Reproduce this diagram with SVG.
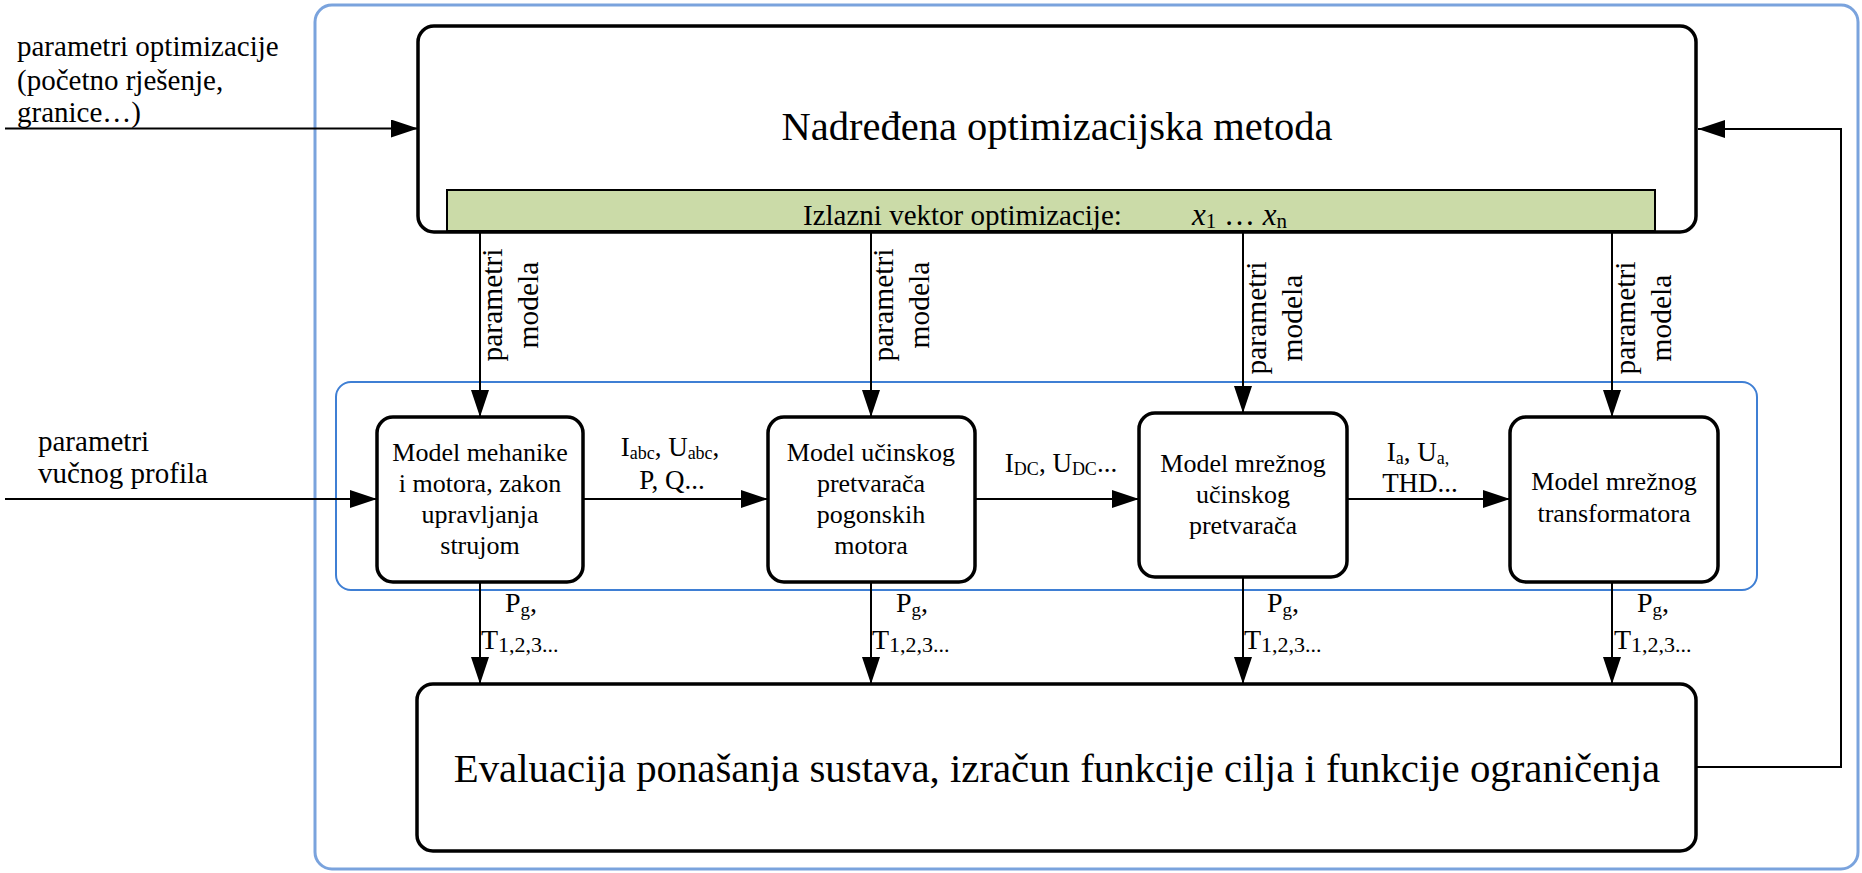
<svg xmlns="http://www.w3.org/2000/svg" width="1862" height="873" viewBox="0 0 1862 873">
<defs>
<style>
.t{font-family:"Liberation Serif","Times New Roman",serif;fill:#000}
.box{fill:#fff;stroke:#000;stroke-width:3.5}
.c{fill:none;stroke:#000;stroke-width:2}
.m{text-anchor:middle;font-size:26px}
.lbl{font-size:29.5px;text-anchor:middle}
</style>
<marker id="arr" viewBox="0 0 27 18" refX="27" refY="9" markerWidth="27" markerHeight="18" markerUnits="userSpaceOnUse" orient="auto">
<path d="M0,0 L27,9 L0,18 z" fill="#000"/>
</marker>
</defs>
<rect width="1862" height="873" fill="#fff"/>
<g id="frame-outer">
<rect x="315" y="5" width="1543" height="864" rx="17" fill="none" stroke="#7aa3dd" stroke-width="3"/>
</g>
<g id="frame-inner">
<rect x="336" y="382" width="1421" height="208" rx="15" fill="none" stroke="#3f7fd4" stroke-width="2"/>
</g>
<g id="connectors">
<path class="c" d="M5,128.5 H418" marker-end="url(#arr)"/>
<path class="c" d="M1696,767 H1841 V129 H1698" marker-end="url(#arr)"/>
<path class="c" d="M5,499 H377" marker-end="url(#arr)"/>
<path class="c" d="M583,499 H768" marker-end="url(#arr)"/>
<path class="c" d="M975,499 H1139" marker-end="url(#arr)"/>
<path class="c" d="M1347,499 H1510" marker-end="url(#arr)"/>
<path class="c" d="M480,231 V417" marker-end="url(#arr)"/>
<path class="c" d="M871,231 V417" marker-end="url(#arr)"/>
<path class="c" d="M1243,231 V413" marker-end="url(#arr)"/>
<path class="c" d="M1612,231 V417" marker-end="url(#arr)"/>
<path class="c" d="M480,582 V684" marker-end="url(#arr)"/>
<path class="c" d="M871,582 V684" marker-end="url(#arr)"/>
<path class="c" d="M1243,577 V684" marker-end="url(#arr)"/>
<path class="c" d="M1612,582 V684" marker-end="url(#arr)"/>
<g class="t" font-size="29">
<text x="17" y="56">parametri optimizacije</text>
<text x="17" y="90">(početno rješenje,</text>
<text x="17" y="122">granice…)</text>
<text x="38" y="451">parametri</text>
<text x="38" y="483">vučnog profila</text>
</g>
<g class="t lbl">
<text transform="translate(502,305) rotate(-90)">parametri</text>
<text transform="translate(538,305) rotate(-90)">modela</text>
<text transform="translate(893,305) rotate(-90)">parametri</text>
<text transform="translate(929,305) rotate(-90)">modela</text>
<text transform="translate(1266,318) rotate(-90)">parametri</text>
<text transform="translate(1302,318) rotate(-90)">modela</text>
<text transform="translate(1635,318) rotate(-90)">parametri</text>
<text transform="translate(1671,318) rotate(-90)">modela</text>
</g>
<g class="t" font-size="27" text-anchor="middle">
<text x="670" y="456">I<tspan font-size="18" dy="3">abc</tspan><tspan dy="-3">, U</tspan><tspan font-size="18" dy="3">abc</tspan><tspan dy="-3">,</tspan></text>
<text x="672" y="489">P, Q...</text>
<text x="1061" y="472">I<tspan font-size="18" dy="3">DC</tspan><tspan dy="-3">, U</tspan><tspan font-size="18" dy="3">DC</tspan><tspan dy="-3">...</tspan></text>
<text x="1418" y="461">I<tspan font-size="18" dy="3">a</tspan><tspan dy="-3">, U</tspan><tspan font-size="18" dy="3">a,</tspan></text>
<text x="1420" y="492">THD...</text>
</g>
<g class="t" font-size="28">
<text x="505" y="612">P<tspan font-size="19" dy="4">g</tspan><tspan dy="-4">,</tspan></text>
<text x="481" y="649">T<tspan font-size="22" dy="3">1,2,3...</tspan></text>
<text x="896" y="612">P<tspan font-size="19" dy="4">g</tspan><tspan dy="-4">,</tspan></text>
<text x="872" y="649">T<tspan font-size="22" dy="3">1,2,3...</tspan></text>
<text x="1267" y="612">P<tspan font-size="19" dy="4">g</tspan><tspan dy="-4">,</tspan></text>
<text x="1244" y="649">T<tspan font-size="22" dy="3">1,2,3...</tspan></text>
<text x="1637" y="612">P<tspan font-size="19" dy="4">g</tspan><tspan dy="-4">,</tspan></text>
<text x="1614" y="649">T<tspan font-size="22" dy="3">1,2,3...</tspan></text>
</g>
</g>
<g id="node-optimizer">
<rect class="box" x="418" y="26" width="1278" height="206" rx="16"/>
<text class="t" x="1057" y="140" font-size="40.5" text-anchor="middle">Nadređena optimizacijska metoda</text>
<rect x="447" y="190" width="1208" height="41" fill="#cbdba8" stroke="#000" stroke-width="2"/>
<text class="t" x="803" y="225" font-size="29">Izlazni vektor optimizacije:</text>
<text class="t" x="1192" y="225" font-size="31"><tspan font-style="italic">x</tspan><tspan font-size="21" dy="3">1</tspan><tspan dy="-3"> … </tspan><tspan font-style="italic">x</tspan><tspan font-size="21" dy="3">n</tspan></text>
</g>
<g id="node-motor">
<rect class="box" x="377" y="417" width="206" height="165" rx="16"/>
<text class="t m" x="480" y="461">Model mehanike</text>
<text class="t m" x="480" y="492">i motora, zakon</text>
<text class="t m" x="480" y="523">upravljanja</text>
<text class="t m" x="480" y="554">strujom</text>
</g>
<g id="node-converter">
<rect class="box" x="768" y="417" width="207" height="165" rx="16"/>
<text class="t m" x="871" y="461">Model učinskog</text>
<text class="t m" x="871" y="492">pretvarača</text>
<text class="t m" x="871" y="523">pogonskih</text>
<text class="t m" x="871" y="554">motora</text>
</g>
<g id="node-grid-converter">
<rect class="box" x="1139" y="413" width="208" height="164" rx="16"/>
<text class="t m" x="1243" y="472">Model mrežnog</text>
<text class="t m" x="1243" y="503">učinskog</text>
<text class="t m" x="1243" y="534">pretvarača</text>
</g>
<g id="node-transformer">
<rect class="box" x="1510" y="417" width="208" height="165" rx="16"/>
<text class="t m" x="1614" y="490">Model mrežnog</text>
<text class="t m" x="1614" y="522">transformatora</text>
</g>
<g id="node-evaluation">
<rect class="box" x="417" y="684" width="1279" height="167" rx="16"/>
<text class="t" x="1057" y="782" font-size="40.8" text-anchor="middle">Evaluacija ponašanja sustava, izračun funkcije cilja i funkcije ograničenja</text>
</g>
</svg>
